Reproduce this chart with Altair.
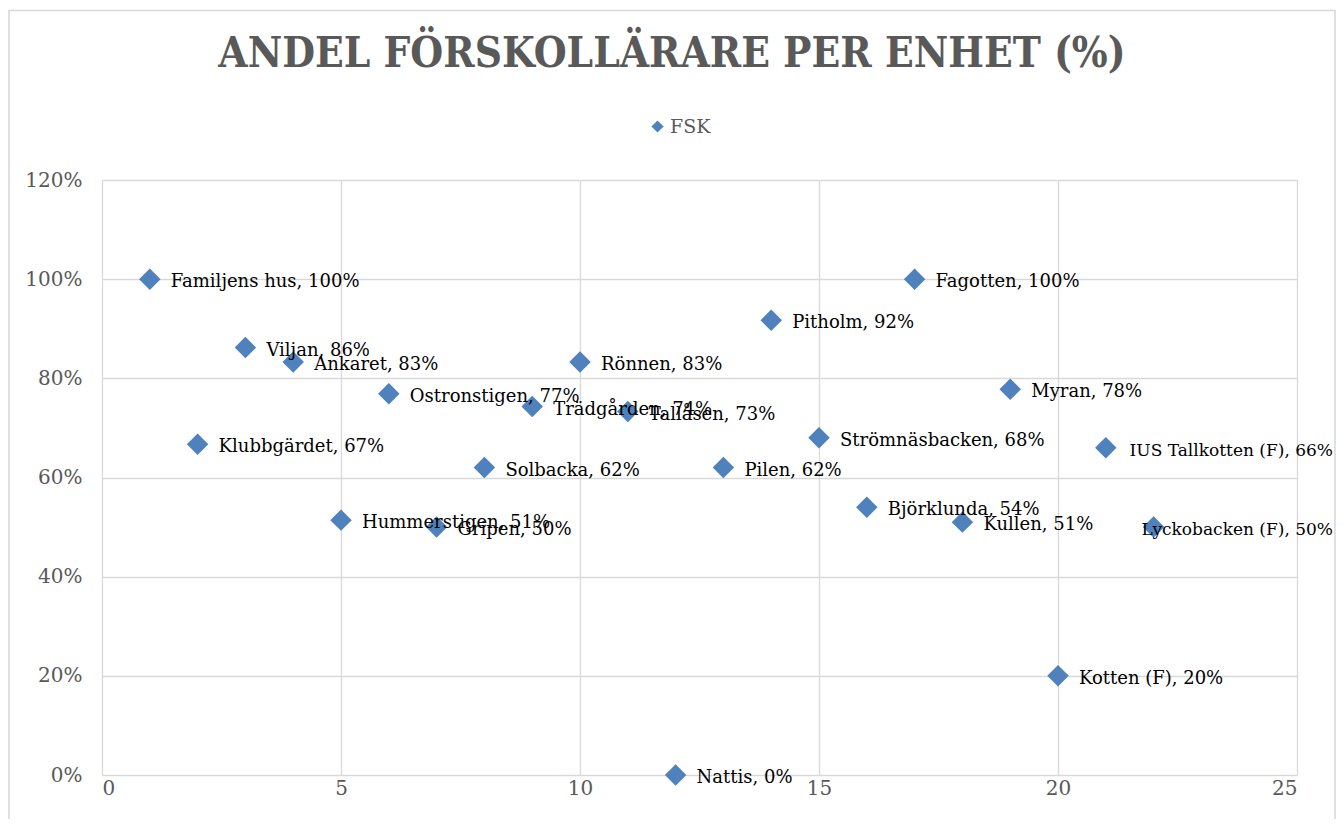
import altair as alt
import pandas as pd

names = ["Familjens hus", "Klubbgärdet", "Viljan", "Ankaret", "Hummerstigen",
         "Ostronstigen", "Gripen", "Solbacka", "Trädgården", "Rönnen", "Tallåsen",
         "Nattis", "Pilen", "Pitholm", "Strömnäsbacken", "Björklunda", "Fagotten",
         "Kullen", "Myran", "Kotten (F)", "IUS Tallkotten (F)", "Lyckobacken (F)"]
xs = list(range(1, 23))
shares = [1.00, 0.667, 0.862, 0.833, 0.514, 0.769, 0.50, 0.62, 0.743, 0.833, 0.733,
          0.0, 0.62, 0.917, 0.68, 0.54, 1.00, 0.51, 0.778, 0.20, 0.66, 0.50]
series = "FSK"
title_text = "ANDEL FÖRSKOLLÄRARE PER ENHET (%)"

df = pd.DataFrame({"name": names, "x": xs, "y": shares, "series": series})

W, H = 1195, 595
SERIF = "DejaVu Serif"
GRAY = "#595959"
BLUE = "#4f81bd"

base = alt.Chart(df)

border = base.mark_rect(fill=None, stroke="#d9d9d9", strokeWidth=1.6).encode(
    x=alt.value(-93), x2=alt.value(1233), y=alt.value(-169.5), y2=alt.value(700)
).transform_filter(alt.datum.x == 1)

points = base.mark_point(shape="diamond", filled=True, opacity=1, size=460).encode(
    x=alt.X("x:Q", scale=alt.Scale(domain=[0, 25], nice=False),
            axis=alt.Axis(values=[0, 5, 10, 15, 20, 25], title=None)),
    y=alt.Y("y:Q", scale=alt.Scale(domain=[0, 1.2], nice=False),
            axis=alt.Axis(values=[0, 0.2, 0.4, 0.6, 0.8, 1.0, 1.2], format=".0%", title=None)),
    color=alt.Color("series:N", scale=alt.Scale(range=[BLUE]),
                    legend=alt.Legend(title=None, orient="none", legendX=546, legendY=-63,
                                      symbolSize=150, symbolType="diamond",
                                      labelFont=SERIF, labelFontSize=19, labelColor=GRAY,
                                      labelOffset=3)),
)

label_expr = "datum.name + ', ' + format(datum.y, '.0%')"

labels = base.transform_calculate(lab=label_expr).transform_filter(alt.datum.x < 20.5).mark_text(
    align="left", baseline="middle", dx=21, dy=3, font=SERIF, fontSize=18, color="#000000"
).encode(x="x:Q", y="y:Q", text="lab:N")

# labels that would run past the chart's right edge are pushed back inside it
labels_edge = base.transform_calculate(lab=label_expr).transform_filter(alt.datum.x > 20.5).mark_text(
    align="right", baseline="middle", dy=3, font=SERIF, fontSize=17, color="#000000"
).encode(x=alt.value(1231), y="y:Q", text="lab:N")

title = base.transform_filter(alt.datum.x == 1).mark_text(
    align="center", baseline="alphabetic", font="DejaVu Serif Condensed", fontWeight="bold",
    fontSize=42, color=GRAY, text=title_text
).encode(x=alt.value(570), y=alt.value(-113))

chart = alt.layer(border, points, labels, labels_edge, title).properties(
    width=W, height=H,
    autosize=alt.AutoSizeParams(type="none"),
    padding={"left": 94, "top": 172, "right": 39, "bottom": 44},
).configure_view(stroke=None).configure_axis(
    grid=True, gridColor="#d9d9d9", gridWidth=1.3, domain=False, ticks=False,
    labelFont=SERIF, labelFontSize=20, labelColor=GRAY,
).configure_axisY(labelPadding=20).configure_axisX(labelPadding=3)

chart.save("out.html", embed_options={"renderer": "svg", "actions": False})
